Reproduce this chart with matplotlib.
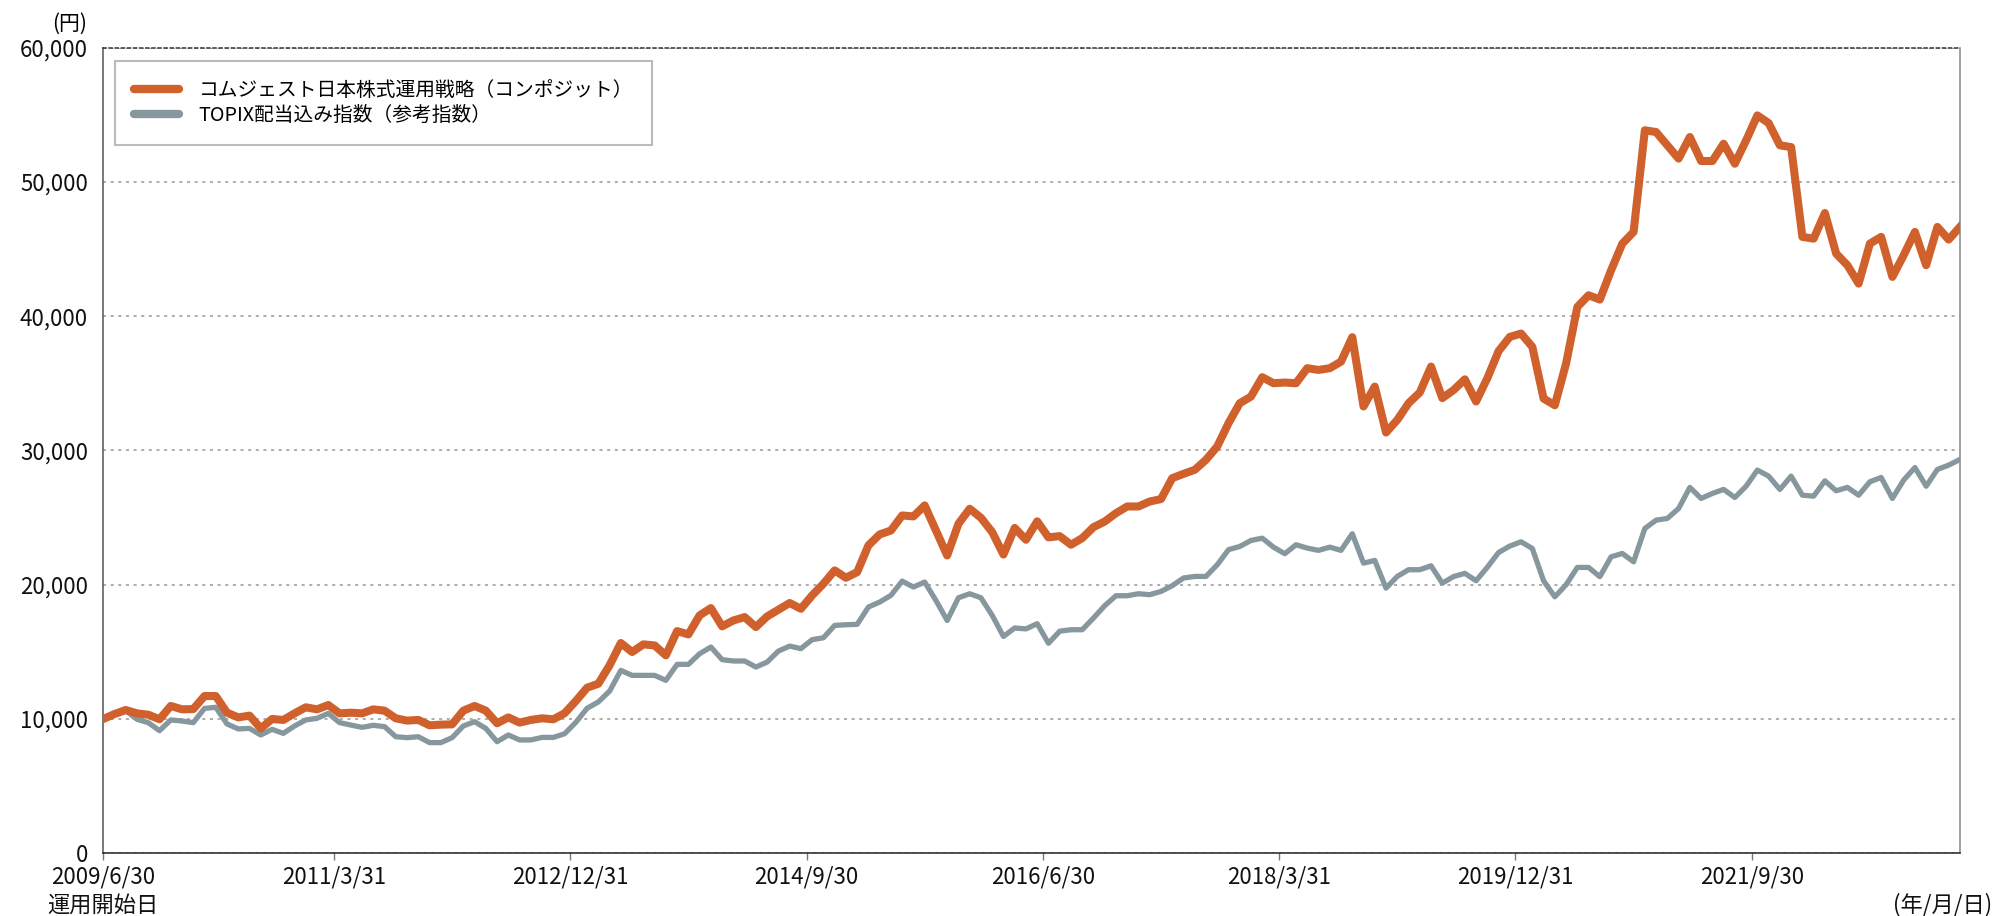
import numpy as np
import matplotlib
matplotlib.use('Agg')
import matplotlib.pyplot as plt
from matplotlib.ticker import FuncFormatter

plt.rcParams['font.family'] = ['Noto Sans CJK JP', 'DejaVu Sans']

# monthly values, 2009/6/30 ... 2023/3/31 (yen, start = 10,000)
comgest = [10000, 10370, 10670, 10420, 10320, 9980, 10970, 10720, 10740, 11710,
           11710, 10470, 10120, 10250, 9300, 10000, 9930, 10420, 10870, 10720,
           11040, 10420, 10470, 10420, 10720, 10620, 10050, 9880, 9930, 9530,
           9580, 9600, 10620, 10970, 10620, 9680, 10120, 9730, 9930, 10050,
           9980, 10430, 11340, 12330, 12630, 14000, 15660, 14990, 15560, 15480,
           14740, 16550, 16300, 17720, 18260, 16900, 17340, 17590, 16850, 17640,
           18140, 18640, 18210, 19210, 20070, 21070, 20520, 20940, 22930, 23750,
           24040, 25160, 25090, 25910, 24040, 22180, 24540, 25660, 24990, 23920,
           22250, 24230, 23350, 24720, 23530, 23620, 22980, 23470, 24290, 24710,
           25330, 25830, 25830, 26200, 26380, 27940, 28260, 28560, 29310, 30300,
           32030, 33520, 34020, 35460, 35010, 35060, 35010, 36130, 36000, 36130,
           36620, 38440, 33280, 34760, 31340, 32280, 33520, 34320, 36250, 33900,
           34500, 35300, 33650, 35380, 37400, 38460, 38710, 37720, 33870, 33370,
           36480, 40690, 41560, 41240, 43420, 45410, 46280, 53850, 53720, 52730,
           51740, 53350, 51560, 51560, 52850, 51360, 53100, 54960, 54390, 52730,
           52600, 45910, 45780, 47690, 44670, 43800, 42430, 45410, 45910, 42930,
           44540, 46280, 43800, 46650, 45710, 46650]

topix = [10000, 10370, 10620, 9980, 9730, 9130, 9930, 9850, 9730, 10790,
         10870, 9630, 9260, 9300, 8810, 9230, 8930, 9480, 9930, 10050,
         10420, 9730, 9550, 9380, 9530, 9430, 8680, 8610, 8680, 8240,
         8240, 8610, 9480, 9800, 9300, 8310, 8810, 8440, 8440, 8630,
         8630, 8900, 9750, 10800, 11270, 12080, 13620, 13250, 13250, 13250,
         12880, 14070, 14070, 14860, 15360, 14420, 14320, 14320, 13870, 14240,
         15060, 15430, 15240, 15910, 16050, 16970, 17020, 17050, 18340, 18710,
         19210, 20270, 19830, 20200, 18830, 17340, 19030, 19330, 19030, 17720,
         16150, 16780, 16710, 17100, 15640, 16540, 16650, 16650, 17520, 18440,
         19180, 19180, 19330, 19260, 19500, 19930, 20500, 20620, 20620, 21490,
         22610, 22850, 23300, 23470, 22800, 22310, 22980, 22730, 22560, 22800,
         22560, 23800, 21610, 21810, 19750, 20620, 21120, 21120, 21410, 20120,
         20610, 20850, 20300, 21300, 22400, 22880, 23200, 22700, 20300, 19100,
         20000, 21290, 21290, 20600, 22080, 22330, 21710, 24190, 24810, 24940,
         25680, 27250, 26430, 26800, 27100, 26500, 27340, 28540, 28090, 27100,
         28090, 26670, 26600, 27740, 27000, 27250, 26670, 27670, 27990, 26430,
         27790, 28730, 27340, 28590, 28910, 29330]

tick_labels = ['2009/6/30', '2011/3/31', '2012/12/31', '2014/9/30',
               '2016/6/30', '2018/3/31', '2019/12/31', '2021/9/30']
tick_pos = [0, 20.5, 41.5, 62.5, 83.5, 104.5, 125.5, 146.5]

series_names = ['コムジェスト日本株式運用戦略（コンポジット）', 'TOPIX配当込み指数（参考指数）']
orange = '#d0602c'
grey = '#86979e'

months = np.arange(len(comgest))

fig = plt.figure(figsize=(19.93, 9.16), dpi=100)
ax = fig.add_axes([0.0518, 0.0685, 0.9316, 0.8794])

ax.plot(months, topix, color=grey, lw=3.8, solid_joinstyle='round',
        label=series_names[1], zorder=3)
ax.plot(months, comgest, color=orange, lw=5.8, solid_joinstyle='round',
        label=series_names[0], zorder=4)

ax.set_xlim(0, len(comgest) - 1)
ax.set_ylim(0, 60000)
ax.set_yticks(np.arange(0, 60001, 10000))
ax.yaxis.set_major_formatter(FuncFormatter(lambda v, p: f'{int(v):,}'))
ax.set_xticks(tick_pos)
ax.set_xticklabels(tick_labels)

ax.grid(axis='y', linestyle=(0, (2, 3)), color='#999999', lw=1.1)
ax.set_axisbelow(True)

ax.tick_params(axis='y', length=0, pad=11, labelsize=16, colors='#111111')
ax.tick_params(axis='x', length=5, width=1, color='#777777', pad=4,
               labelsize=16, labelcolor='#111111')

ax.spines['top'].set_linestyle((0, (2, 2)))
ax.spines['top'].set_color('#333333')
ax.spines['bottom'].set_color('#222222')
ax.spines['left'].set_color('#555555')
ax.spines['right'].set_color('#888888')
for s in ax.spines.values():
    s.set_linewidth(1.1)

h, l = ax.get_legend_handles_labels()
leg = ax.legend(h[::-1], l[::-1], loc='upper left', bbox_to_anchor=(0.0063, 0.983),
                fontsize=14.2, frameon=True, fancybox=False, edgecolor='#aaaaaa',
                handlelength=2.3, handletextpad=1.0, borderpad=0.95,
                labelspacing=0.2, borderaxespad=0)
leg.get_frame().set_linewidth(1.5)
for line in leg.get_lines():
    line.set_solid_capstyle('round')
    line.set_linewidth(6)

fig.text(87 / 1993, 1 - 24 / 916, '(円)', ha='right', va='center', fontsize=15)
ax.text(0, -0.064, '運用開始日', transform=ax.transAxes, ha='center', va='center',
        fontsize=16, color='#111111')
fig.text(0.9995, 1 - 905 / 916, '(年/月/日)', ha='right', va='center',
         fontsize=16, color='#111111')

plt.savefig('out.png', dpi=100)
